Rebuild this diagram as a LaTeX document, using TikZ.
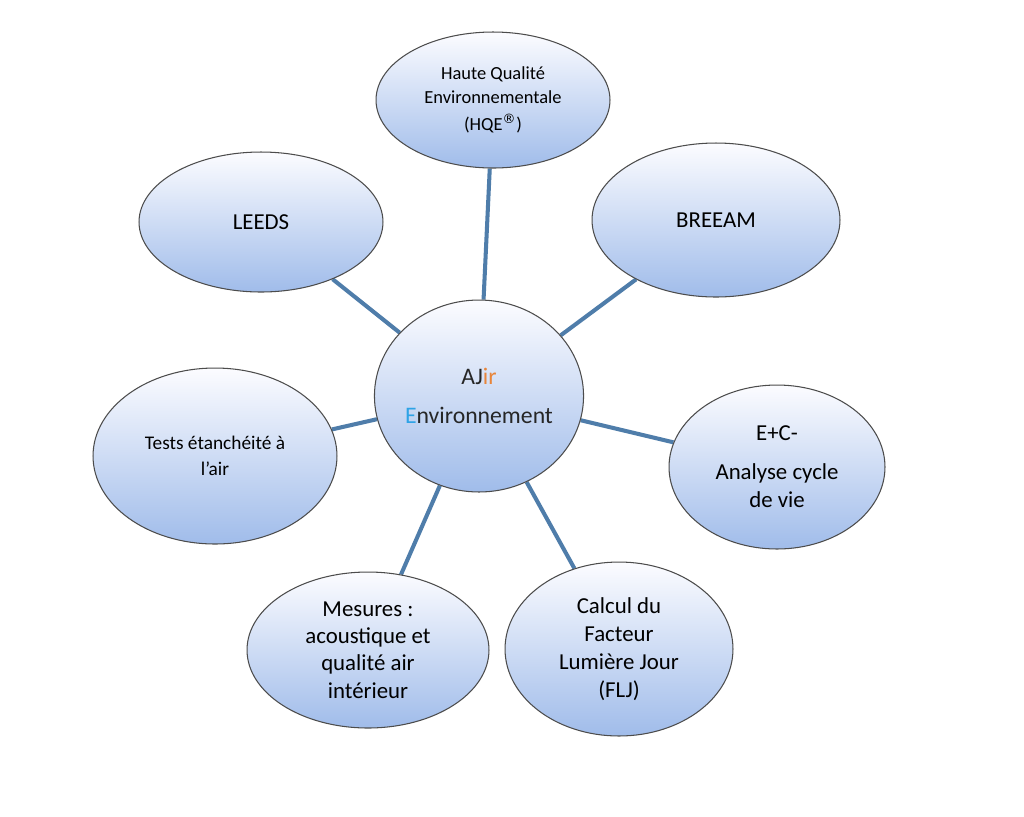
\documentclass[tikz,border=0pt]{standalone}
\usepackage{fontspec}
\setmainfont{Carlito}
\newfontfamily\dvs{DejaVu Sans}
\usetikzlibrary{shapes.geometric,backgrounds}
\definecolor{lnk}{HTML}{4F7DAA}
\definecolor{orng}{HTML}{E8853A}
\definecolor{cyn}{HTML}{2EA3E6}
\definecolor{txt}{HTML}{262626}
\tikzset{
 bub/.style={ellipse,draw=black!70,line width=0.6pt,top color=white!85!blue!8,bottom color={rgb,255:red,160;green,188;blue,234},align=center,text=black,inner sep=0pt},
 lk/.style={draw=lnk,line width=2.3pt}
}
\begin{document}
\begin{tikzpicture}[x=0.02cm,y=-0.02cm]
\useasboundingbox (0,0) rectangle (1024,816);
\node[bub,minimum width=4.68cm,minimum height=2.72cm,font=\fontsize{10.5}{13.5}\selectfont] (hqe) at (493,100) {Haute Qualité\\Environnementale\\[2pt](HQE{\dvs\textsuperscript{®}})};
\node[bub,minimum width=4.88cm,minimum height=2.8cm,font=\fontsize{13}{16}\selectfont] (leeds) at (261,222) {LEEDS};
\node[bub,minimum width=4.96cm,minimum height=3.08cm,font=\fontsize{13}{16}\selectfont] (breeam) at (716,220) {BREEAM};
\node[bub,minimum width=4.12cm,minimum height=3.84cm,font=\fontsize{13.5}{22}\selectfont,text=txt] (c) at (479,396) {A{}J{\color{orng}ir}\\{\color{cyn}E}nvironnement};
\node[bub,minimum width=4.88cm,minimum height=3.52cm,font=\fontsize{11}{15}\selectfont] (tests) at (215,456) {Tests étanchéité à\\l{\char"0027}air};
\node[bub,minimum width=4.32cm,minimum height=3.28cm,font=\fontsize{13}{16}\selectfont] (ec) at (777,467) {E+C-\\[6pt]Analyse cycle\\de vie};
\node[bub,minimum width=4.84cm,minimum height=3.12cm,font=\fontsize{13}{15.5}\selectfont] (mes) at (368,650) {Mesures :\\acoustique et\\qualité air\\intérieur};
\node[bub,minimum width=4.56cm,minimum height=3.48cm,font=\fontsize{13}{16}\selectfont] (cal) at (619,649) {Calcul du\\Facteur\\Lumière Jour\\(FLJ)};
\begin{scope}[on background layer]
\fill[white] (0,0) rectangle (1024,816);
\path[lk] (c) -- (hqe);
\path[lk] (c) -- (leeds);
\path[lk] (c) -- (breeam);
\path[lk] (c) -- (tests);
\path[lk] (c) -- (ec);
\path[lk] (c) -- (mes);
\path[lk] (c) -- (cal);
\end{scope}
\end{tikzpicture}
\end{document}
